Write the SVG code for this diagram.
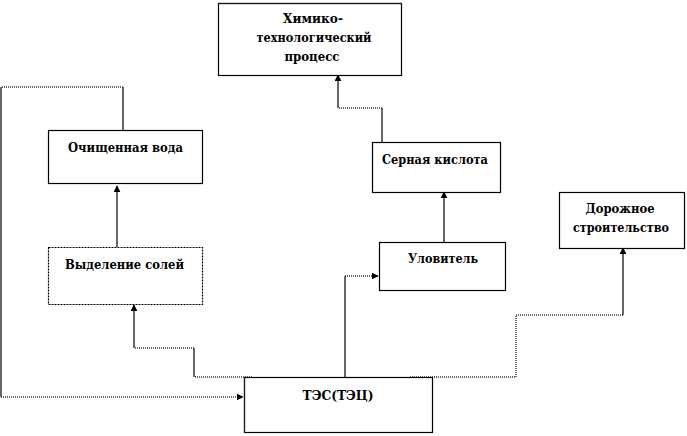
<svg xmlns="http://www.w3.org/2000/svg" width="687" height="436" viewBox="0 0 687 436">
<style>
.box{fill:#fff;stroke:#000;stroke-width:1.2}
.dot{stroke:#000;stroke-width:1.2;stroke-dasharray:2 1}
.t{font-family:'DejaVu Serif',serif;font-weight:bold;font-size:13px;fill:#000;text-anchor:middle}
.s{fill:none;stroke:#000;stroke-width:1.2}
.d{fill:none;stroke:#333;stroke-width:1.4;stroke-dasharray:1 1}
</style>
<defs>
<marker id="ah" viewBox="0 0 10 10" refX="9" refY="5" markerWidth="7" markerHeight="7" markerUnits="userSpaceOnUse" orient="auto">
<path d="M0,0 L10,5 L0,10 Z" fill="#000"/>
</marker>
</defs>
<rect width="687" height="436" fill="#fff"/>
<g id="connectors">
<path class="s" d="M123,130 V87"/>
<path class="d" d="M123,87 H1"/>
<path class="s" d="M1,87 V397"/>
<path class="d" d="M1,397 H243" marker-end="url(#ah)"/>
<path class="s" d="M117,247 V186" marker-end="url(#ah)"/>
<path class="d" d="M252,377 H194"/>
<path class="s" d="M194,377 V348"/>
<path class="d" d="M194,348 H134"/>
<path class="s" d="M134,348 V305" marker-end="url(#ah)"/>
<path class="s" d="M345,377 V276"/>
<path class="d" d="M345,276 H378" marker-end="url(#ah)"/>
<path class="s" d="M444,242 V192" marker-end="url(#ah)"/>
<path class="s" d="M382,142 V108"/>
<path class="d" d="M382,108 H338"/>
<path class="s" d="M338,108 V75" marker-end="url(#ah)"/>
<path class="d" d="M410,377 H516"/>
<path class="d" d="M516,377 V315 H623"/>
<path class="s" d="M623,315 V248" marker-end="url(#ah)"/>
</g>
<g id="n-process">
<rect class="box" x="218.5" y="3.5" width="183" height="72"/>
<path class="d" d="M218.5,3.5 H401.5"/>
<text class="t" x="313" y="23" textLength="60" lengthAdjust="spacingAndGlyphs">Химико-</text>
<text class="t" x="314" y="42" textLength="115" lengthAdjust="spacingAndGlyphs">технологический</text>
<text class="t" x="312" y="61" textLength="55" lengthAdjust="spacingAndGlyphs">процесс</text>
</g>
<g id="n-water">
<rect class="box" x="48.5" y="130.5" width="154" height="53"/>
<text class="t" x="125.5" y="152" textLength="115" lengthAdjust="spacingAndGlyphs">Очищенная вода</text>
</g>
<g id="n-salts">
<rect class="box dot" x="48.5" y="247.5" width="154" height="57"/>
<text class="t" x="124.5" y="269" textLength="119" lengthAdjust="spacingAndGlyphs">Выделение солей</text>
</g>
<g id="n-tes">
<rect class="box" x="244.5" y="377.5" width="188" height="55"/>
<path class="d" d="M244.5,377.5 V432.5"/>
<text class="t" x="338" y="400" textLength="71" lengthAdjust="spacingAndGlyphs">ТЭС(ТЭЦ)</text>
</g>
<g id="n-acid">
<rect class="box" x="372.5" y="142.5" width="128" height="50"/>
<text class="t" x="435" y="164" textLength="106" lengthAdjust="spacingAndGlyphs">Серная кислота</text>
</g>
<g id="n-catcher">
<rect class="box" x="379.5" y="242.5" width="126" height="48"/>
<text class="t" x="443" y="263" textLength="70" lengthAdjust="spacingAndGlyphs">Уловитель</text>
</g>
<g id="n-road">
<rect class="box" x="559.5" y="192.5" width="125" height="56"/>
<text class="t" x="620" y="213" textLength="69" lengthAdjust="spacingAndGlyphs">Дорожное</text>
<text class="t" x="621" y="232" textLength="96" lengthAdjust="spacingAndGlyphs">строительство</text>
</g>
</svg>
